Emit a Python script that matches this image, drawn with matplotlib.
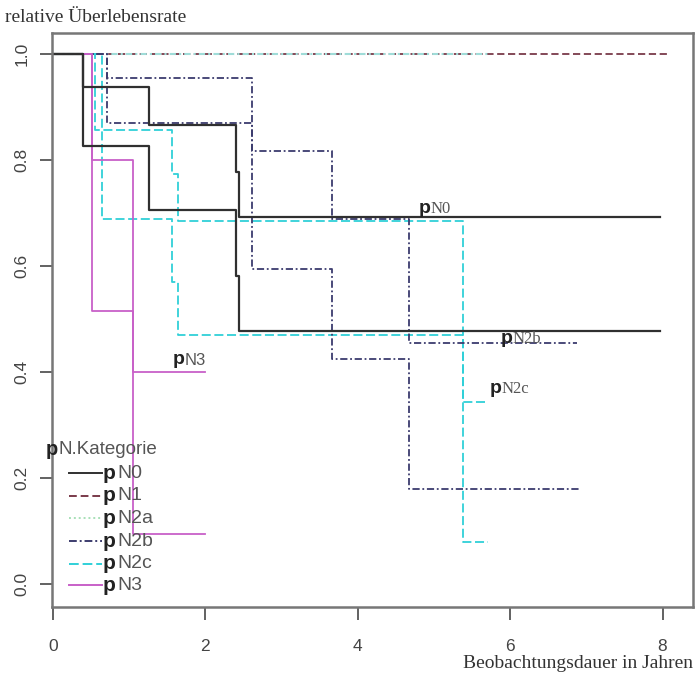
import matplotlib.pyplot as plt

# Kaplan-Meier artige Kurven (Zeit in Jahren, relative Überlebensrate)
n0_hi_t = [0, 0.40, 1.26, 2.41, 2.45, 7.97]
n0_hi_s = [1.0, 0.938, 0.866, 0.777, 0.692, 0.692]
n0_lo_t = [0, 0.40, 1.26, 2.41, 2.45, 7.97]
n0_lo_s = [1.0, 0.826, 0.706, 0.581, 0.477, 0.477]
n1_t = [0, 8.07]
n1_s = [1.0, 1.0]
n2a_t = [0, 5.73]
n2a_s = [1.0, 1.0]
n2b_hi_t = [0, 0.71, 2.61, 3.66, 4.68, 6.88]
n2b_hi_s = [1.0, 0.955, 0.817, 0.690, 0.455, 0.455]
n2b_lo_t = [0, 0.71, 2.61, 3.66, 4.68, 6.90]
n2b_lo_s = [1.0, 0.870, 0.595, 0.425, 0.180, 0.180]
n2c_hi_t = [0, 0.55, 1.56, 1.64, 5.38, 5.71]
n2c_hi_s = [1.0, 0.857, 0.774, 0.685, 0.343, 0.343]
n2c_lo_t = [0, 0.64, 1.56, 1.64, 5.38, 5.71]
n2c_lo_s = [1.0, 0.690, 0.570, 0.470, 0.079, 0.079]
n3_hi_t = [0, 0.51, 1.05, 2.0]
n3_hi_s = [1.0, 0.800, 0.400, 0.400]
n3_lo_t = [0, 0.51, 1.05, 2.0]
n3_lo_s = [1.0, 0.515, 0.094, 0.094]

labels = ["N0", "N1", "N2a", "N2b", "N2c", "N3"]
colors = ["#303030", "#7a3a4a", "#a8e0b8", "#3c3c6e", "#30d0d8", "#c860c8"]
styles = ["-", (0, (4, 2)), (0, (1, 1.5)), (0, (4, 1.5, 1, 1.5)), (0, (5, 2)), "-"]

fig = plt.figure(figsize=(6.95, 6.74), dpi=100)
ax = fig.add_axes([52 / 695, 67 / 674, 641 / 695, 574 / 674])

def curve(t, s, i, lw=1.3, col=None, ls=None):
    ax.step(t, s, where="post", color=col or colors[i], linestyle=ls or styles[i], lw=lw)

curve(n1_t, n1_s, 1)
curve(n2a_t, n2a_s, 2, 1.5, "#9fdcd8", (0, (3, 1.5, 1, 1.5)))
curve(n2c_hi_t, n2c_hi_s, 4)
curve(n2c_lo_t, n2c_lo_s, 4)
curve(n2b_hi_t, n2b_hi_s, 3)
curve(n2b_lo_t, n2b_lo_s, 3)
curve(n3_hi_t, n3_hi_s, 5)
curve(n3_lo_t, n3_lo_s, 5)
curve(n0_hi_t, n0_hi_s, 0, 1.6)
curve(n0_lo_t, n0_lo_s, 0, 1.6)

ax.set_xlim(-0.01, 8.4)
ax.set_ylim(-0.043, 1.04)
ax.set_xticks([0, 2, 4, 6, 8])
ax.set_yticks([0.0, 0.2, 0.4, 0.6, 0.8, 1.0])
ax.set_xticklabels(["0", "2", "4", "6", "8"], family="Liberation Sans", fontsize=12.5, color="#444444")
ax.set_yticklabels(["0.0", "0.2", "0.4", "0.6", "0.8", "1.0"], family="Liberation Sans",
                   fontsize=12.5, color="#444444", rotation=90, va="center")
ax.tick_params(direction="out", length=9, width=1.3, color="#555555", pad=7)
ax.tick_params(axis="x", pad=14)
for sp in ax.spines.values():
    sp.set_color("#777777")
    sp.set_linewidth(1.8)

# Kurvenbeschriftungen
def plabel(x, y, name, fam="Liberation Serif"):
    t = ax.text(x, y, "p", fontsize=14, fontweight="bold", family="Liberation Sans",
                color="#222222", va="baseline")
    ax.annotate(name, xycoords=t, xy=(1, 0), va="bottom", fontsize=12,
                family=fam, color="#555555")

plabel(4.80, 0.700, "N0")
plabel(5.88, 0.455, "N2b")
plabel(5.73, 0.360, "N2c")
plabel(1.57, 0.415, "N3", "Liberation Sans")

# Legende von Hand wie in R
ax.text(-0.09, 0.255, "p", fontsize=14.5, fontweight="bold", family="Liberation Sans",
        color="#222222", va="center")
ax.text(0.08, 0.255, "N.Kategorie", fontsize=13.5, family="Liberation Sans", color="#555555",
        va="center")
leg_y = [0.209, 0.167, 0.124, 0.081, 0.039, -0.002]
for i, lab in enumerate(labels):
    ax.plot([0.21, 0.64], [leg_y[i], leg_y[i]], color=colors[i], linestyle=styles[i], lw=1.4)
    ax.text(0.65, leg_y[i], "p", fontsize=15, fontweight="bold", family="Liberation Sans",
            color="#222222", va="center")
    ax.text(0.85, leg_y[i], lab, fontsize=14, family="Liberation Sans", color="#555555",
            va="center")

fig.text(5 / 695, 1 - 17 / 674, "relative Überlebensrate", family="Liberation Serif",
         fontsize=14, color="#333333", va="center")
fig.text(693 / 695, 1 - 664 / 674, "Beobachtungsdauer in Jahren", family="Liberation Serif",
         fontsize=14, color="#333333", va="center", ha="right")

fig.savefig("out.png", dpi=100)
